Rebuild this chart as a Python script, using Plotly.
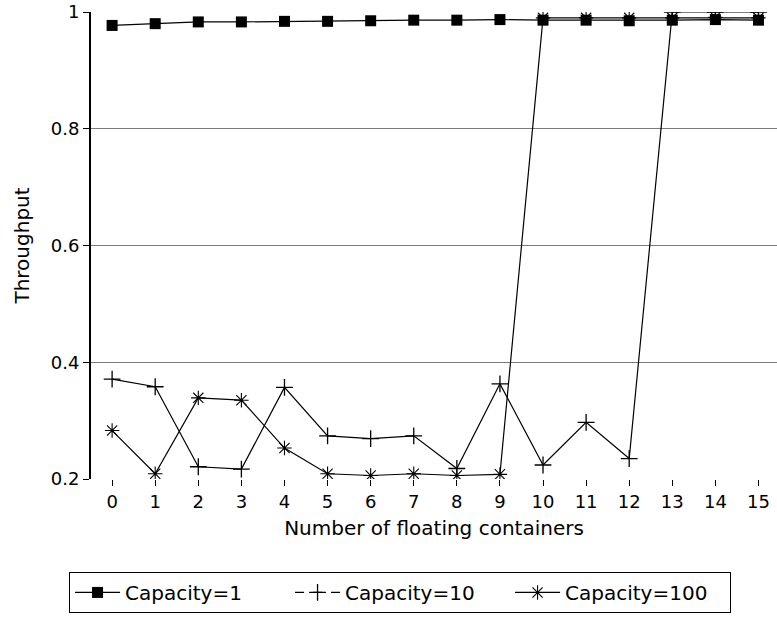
import plotly.graph_objects as go

containers = list(range(16))
cap1 = [0.977, 0.980, 0.983, 0.983, 0.984, 0.984, 0.985, 0.986, 0.986, 0.987, 0.986, 0.986, 0.985, 0.986, 0.987, 0.986]
cap10 = [0.371, 0.358, 0.221, 0.217, 0.357, 0.274, 0.269, 0.274, 0.218, 0.363, 0.224, 0.297, 0.235, 1.0, 1.0, 1.0]
cap100 = [0.283, 0.209, 0.339, 0.335, 0.253, 0.209, 0.206, 0.209, 0.206, 0.208, 0.990, 0.990, 0.990, 0.990, 0.991, 0.990]
series_names = ["Capacity=1", "Capacity=10", "Capacity=100"]
y_ticks = [0.2, 0.4, 0.6, 0.8, 1.0]
y_tick_labels = ["0.2", "0.4", "0.6", "0.8", "1"]

FONT = "DejaVu Sans, Arial, sans-serif"

markers = [
    dict(symbol="square", size=11, color="black"),
    dict(symbol="cross-thin-open", size=12, line=dict(color="black", width=1.3)),
    dict(symbol="asterisk-open", size=12, line=dict(color="black", width=1.1)),
]
legend_dash = ["solid", "dash", "solid"]

fig = go.Figure()
for name, ys, mk in zip(series_names, [cap1, cap10, cap100], markers):
    fig.add_trace(go.Scatter(
        x=containers, y=ys, name=name, mode="lines+markers", showlegend=False,
        line=dict(color="black", width=1.2), marker=mk,
    ))
# legend entries (sample styles as drawn in the reference legend)
for name, mk, dsh in zip(series_names, markers, legend_dash):
    fig.add_trace(go.Scatter(
        x=[None], y=[None], name=name, mode="lines+markers",
        line=dict(color="black", width=1.2, dash=dsh), marker=mk,
    ))

fig.update_layout(
    width=777, height=618,
    margin=dict(l=91, r=0, t=12, b=139),
    paper_bgcolor="white", plot_bgcolor="white",
    font=dict(family=FONT, size=18, color="black"),
    showlegend=True,
    legend=dict(
        orientation="h", x=-0.032, y=-0.199, xanchor="left", yanchor="top",
        bordercolor="black", borderwidth=1, bgcolor="white",
        font=dict(family=FONT, size=20, color="black"),
        itemwidth=45, entrywidth=160, tracegroupgap=0,
    ),
)
fig.update_xaxes(
    range=[-0.49, 15.43], tickmode="array", tickvals=containers,
    ticks="outside", ticklen=6, tickcolor="black",
    showgrid=False, zeroline=False, showline=False,
    title=dict(text="Number of floating containers", font=dict(size=20), standoff=10),
    tickfont=dict(size=18),
)
fig.update_yaxes(
    range=[0.2, 1.0], tickmode="array", tickvals=y_ticks, ticktext=y_tick_labels,
    ticks="outside", ticklen=6, tickcolor="black",
    showgrid=True, gridcolor="#7a7a7a", gridwidth=1.2,
    zeroline=False, showline=True, linecolor="black", linewidth=2,
    title=dict(text="Throughput", font=dict(size=20), standoff=16),
    tickfont=dict(size=18),
)
fig.write_html("out.html")
